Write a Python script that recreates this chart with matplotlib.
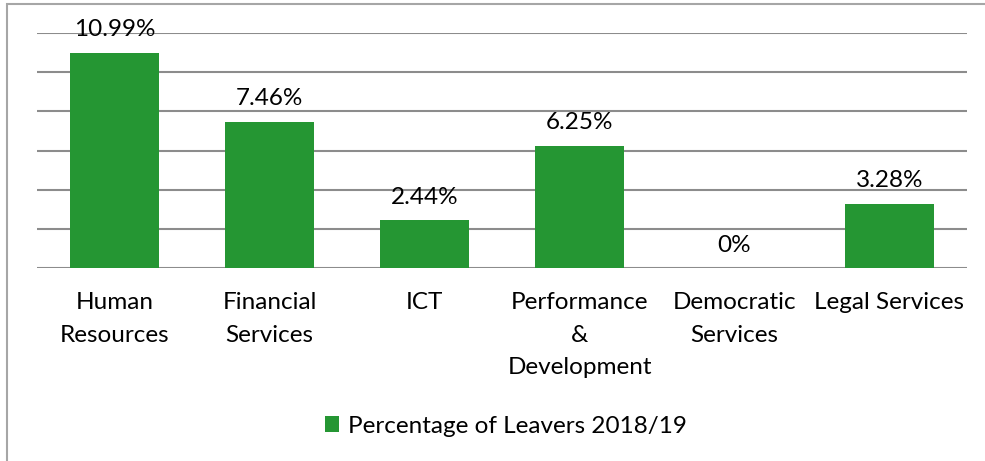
import numpy as np
import matplotlib.pyplot as plt
from matplotlib.patches import Rectangle

plt.rcParams['font.family'] = ['Lato', 'DejaVu Sans']

departments = ["Human\nResources", "Financial\nServices", "ICT",
               "Performance\n&\nDevelopment", "Democratic\nServices",
               "Legal Services"]
leavers_pct = [10.99, 7.46, 2.44, 6.25, 0.0, 3.28]
value_labels = ["10.99%", "7.46%", "2.44%", "6.25%", "0%", "3.28%"]

BAR_GREEN = '#259633'
GRID_GREY = '#8c8c8c'
FS = 17.5

fig = plt.figure(figsize=(9.85, 4.61), dpi=100)
W, H = 985, 461

# outer chart frame (runs off the right and bottom edges)
fig.patches.append(Rectangle((7 / W, -0.1), 1.2, (H - 4) / H + 0.1,
                             transform=fig.transFigure, fill=False,
                             edgecolor='#a6a6a6', linewidth=1.5))

ax = fig.add_axes([37 / W, (H - 268) / H, 930 / W, (268 - 33) / H])
x = np.arange(len(departments))
bars = ax.bar(x, leavers_pct, width=0.57, color=BAR_GREEN,
              label='Percentage of Leavers 2018/19', zorder=3)

ax.set_xlim(-0.5, len(departments) - 0.5)
ax.set_ylim(0, 12)
ax.set_yticks(np.arange(0, 13, 2))
ax.yaxis.grid(True, color=GRID_GREY, linewidth=1.5, zorder=0)
ax.tick_params(axis='y', left=False, labelleft=False)
ax.tick_params(axis='x', bottom=False, pad=14)
ax.set_xticks(x)
ax.set_xticklabels(departments, fontsize=FS, linespacing=1.66)
for s in ax.spines.values():
    s.set_visible(False)

for xi, v, lab in zip(x, leavers_pct, value_labels):
    ax.annotate(lab, (xi, v), xytext=(0, 9), textcoords='offset points',
                ha='center', va='bottom', fontsize=FS)

fig.legend(handles=[bars], labels=['Percentage of Leavers 2018/19'],
           loc='center', bbox_to_anchor=(0.5 + 13 / W, (H - 426) / H),
           frameon=False, fontsize=FS, handlelength=0.6, handleheight=0.6,
           handletextpad=0.35)

fig.savefig('out.png', dpi=100)
